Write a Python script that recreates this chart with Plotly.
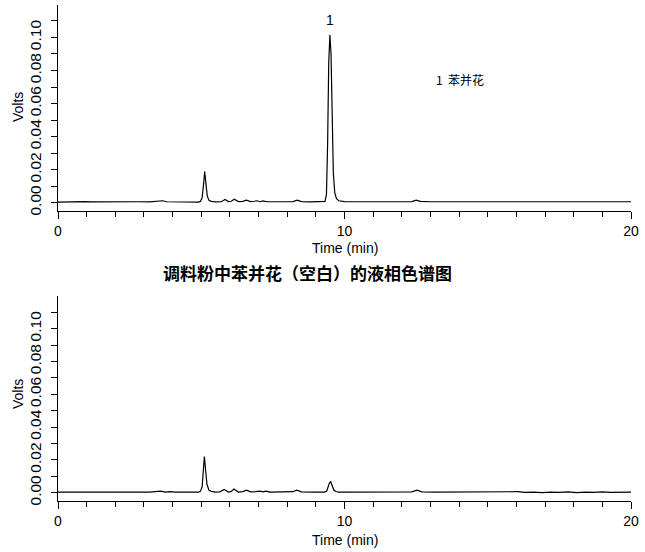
import plotly.graph_objects as go

# ---- data (time in min, signal in volts) ----
sample_time = [0.0, 0.3, 0.6, 0.9, 1.2, 1.5, 1.8, 2.1, 2.4, 2.8, 3.2, 3.5, 3.65, 3.8, 4.2, 4.6, 4.9,
               4.97, 5.03, 5.08, 5.12, 5.16, 5.21, 5.27, 5.35,
               5.5, 5.7, 5.83, 5.95, 6.05, 6.15, 6.3, 6.45, 6.58, 6.72, 6.85, 6.95, 7.05, 7.15, 7.3,
               7.8, 8.2, 8.35, 8.5, 8.8, 9.2,
               9.32, 9.37, 9.41, 9.45, 9.49, 9.53, 9.57, 9.61, 9.66, 9.72, 9.8, 9.9,
               10.0, 10.5, 11.0, 11.24, 11.4, 11.76, 11.9, 12.35, 12.5, 12.65, 13.0,
               14.0, 15.0, 16.0, 17.0, 18.0, 19.0, 20.0]
sample_volts = [0.0004, 0.0006, 0.0005, 0.0007, 0.0005, 0.0006, 0.0004, 0.0006, 0.0005, 0.0006, 0.0005, 0.0007, 0.0012, 0.0006, 0.0005, 0.0004, 0.0004,
                0.0008, 0.0030, 0.0110, 0.0188, 0.0120, 0.0040, 0.0015, 0.0008,
                0.0005, 0.0006, 0.0020, 0.0007, 0.0009, 0.0021, 0.0007, 0.0008, 0.0015, 0.0007, 0.0009, 0.0012, 0.0006, 0.0011, 0.0006,
                0.0005, 0.0007, 0.0015, 0.0007, 0.0005, 0.0005,
                0.0008, 0.0050, 0.0350, 0.0850, 0.1015, 0.0900, 0.0500, 0.0180, 0.0060, 0.0025, 0.0012, 0.0008,
                0.0007, 0.0006, 0.0006, 0.0009, 0.0006, 0.0009, 0.0006, 0.0007, 0.0016, 0.0008, 0.0006,
                0.0006, 0.0006, 0.0006, 0.0006, 0.0006, 0.0006, 0.0006]

blank_time = [0.0, 0.5, 1.0, 1.5, 2.0, 2.4, 2.58, 2.75, 3.2, 3.58, 3.75, 3.9, 4.1, 4.5, 4.9,
              4.97, 5.03, 5.07, 5.11, 5.15, 5.20, 5.27, 5.35,
              5.5, 5.65, 5.80, 5.95, 6.05, 6.14, 6.3, 6.45, 6.58, 6.72, 6.9, 7.05, 7.15, 7.26, 7.4,
              7.8, 8.2, 8.33, 8.5, 8.9, 9.3,
              9.38, 9.43, 9.48, 9.52, 9.57, 9.63, 9.7, 9.8,
              10.2, 10.8, 11.24, 11.4, 11.76, 11.9, 12.35, 12.53, 12.7, 13.2, 13.8, 14.5, 15.0, 15.27,
              15.5, 16.05, 16.3, 16.6, 16.9, 17.2, 17.5, 17.8, 18.1, 18.4, 18.7, 19.0, 19.3, 19.6, 19.8, 20.0]
blank_volts = [0.0003, 0.0003, 0.0003, 0.0003, 0.0003, 0.0003, 0.0007, 0.0003, 0.0003, 0.0010, 0.0004, 0.0007, 0.0003, 0.0003, 0.0003,
               0.0008, 0.0035, 0.0130, 0.0220, 0.0140, 0.0050, 0.0015, 0.0008,
               0.0003, 0.0005, 0.0020, 0.0004, 0.0008, 0.0022, 0.0004, 0.0007, 0.0015, 0.0005, 0.0006, 0.0010, 0.0005, 0.0010, 0.0004,
               0.0004, 0.0006, 0.0015, 0.0005, 0.0004, 0.0004,
               0.0010, 0.0032, 0.0062, 0.0067, 0.0042, 0.0015, 0.0007, 0.0004,
               0.0004, 0.0004, 0.0007, 0.0004, 0.0007, 0.0004, 0.0005, 0.0015, 0.0005, 0.0004, 0.0004, 0.0004, 0.0003, 0.0007,
               0.0003, 0.0006, 0.0002, 0.0004, 0.0001, 0.0004, 0.0002, 0.0005, 0.0001, 0.0004, 0.0002, 0.0005, 0.0002, 0.0004, 0.0001, 0.0003]

peak_label_time = [9.5]
peak_label_volts = [0.1105]
peak_label_text = ["1"]
legend_text = "1&nbsp;&nbsp;苯并花"
title_text = "调料粉中苯并花（空白）的液相色谱图"
x_title = "Time (min)"
y_title = "Volts"
x_tick_vals = [0, 10, 20]
y_tick_vals = [0.00, 0.02, 0.04, 0.06, 0.08, 0.10]

W, H = 645, 552
FONT = "Liberation Sans, Arial, sans-serif"
CJK = "Noto Sans CJK SC, sans-serif"

fig = go.Figure()
fig.add_trace(go.Scatter(x=sample_time, y=sample_volts, mode="lines",
                         line=dict(color="black", width=1.2), xaxis="x", yaxis="y",
                         showlegend=False, hoverinfo="x+y"))
fig.add_trace(go.Scatter(x=blank_time, y=blank_volts, mode="lines",
                         line=dict(color="black", width=1.2), xaxis="x2", yaxis="y2",
                         showlegend=False, hoverinfo="x+y"))

def px_x(p):
    return p / W

def px_y(p):
    return 1 - p / H

xdom = [px_x(58), px_x(631)]
common_x = dict(range=[0, 20], showline=True, linecolor="black", linewidth=1,
                ticks="outside", ticklen=7, tickcolor="black", tickwidth=1,
                tickvals=x_tick_vals, showgrid=False, zeroline=False,
                tickfont=dict(family=FONT, size=14, color="black"),
                minor=dict(dtick=1, ticks="outside", ticklen=5, tickcolor="black", showgrid=False),
                domain=xdom, fixedrange=True, automargin=False)
common_y = dict(showline=True, linecolor="black", linewidth=1,
                ticks="outside", ticklen=6, tickcolor="black", tickwidth=1,
                tickvals=y_tick_vals, tickformat=".2f", tickangle=-90,
                showgrid=False, zeroline=False, ticklabelstandoff=4,
                tickfont=dict(family=FONT, size=15.5, color="black"),
                minor=dict(dtick=0.01, tick0=0, ticks="outside", ticklen=6, tickcolor="black", showgrid=False),
                fixedrange=True, automargin=False)

fig.update_layout(
    width=W, height=H,
    margin=dict(l=0, r=0, t=0, b=0, autoexpand=False),
    paper_bgcolor="white", plot_bgcolor="white",
    xaxis=dict(common_x, anchor="y"),
    yaxis=dict(common_y, range=[-0.005, 0.1196], domain=[px_y(211), px_y(5)], anchor="x"),
    xaxis2=dict(common_x, anchor="y2"),
    yaxis2=dict(common_y, range=[-0.00506, 0.1199], domain=[px_y(501), px_y(296)], anchor="x2"),
)

ann = []
for t, v, s in zip(peak_label_time, peak_label_volts, peak_label_text):
    ann.append(dict(x=t, y=v, xref="x", yref="y", text=s, showarrow=False,
                    xanchor="center", yanchor="middle",
                    font=dict(family=FONT, size=14, color="black")))
ann.append(dict(x=14.03, y=0.0748, xref="x", yref="y", text=legend_text, showarrow=False,
                xanchor="center", yanchor="middle",
                font=dict(family=CJK, size=12, color="black")))
ann.append(dict(x=px_x(307), y=px_y(272), xref="paper", yref="paper", text="<b>" + title_text + "</b>",
                showarrow=False, xanchor="center", yanchor="middle",
                font=dict(family=CJK, size=17, color="black")))
for yc in (107, 394):
    ann.append(dict(x=px_x(18), y=px_y(yc), xref="paper", yref="paper", text=y_title, textangle=-90,
                    showarrow=False, xanchor="center", yanchor="middle",
                    font=dict(family=FONT, size=14, color="black")))
for yc in (248, 540):
    ann.append(dict(x=px_x(345), y=px_y(yc), xref="paper", yref="paper", text=x_title,
                    showarrow=False, xanchor="center", yanchor="middle",
                    font=dict(family=FONT, size=14, color="black")))
fig.update_layout(annotations=ann)

fig.write_html("out.html", config={"displayModeBar": False},
               post_script="document.body.style.margin='0';document.body.style.overflow='hidden';")
